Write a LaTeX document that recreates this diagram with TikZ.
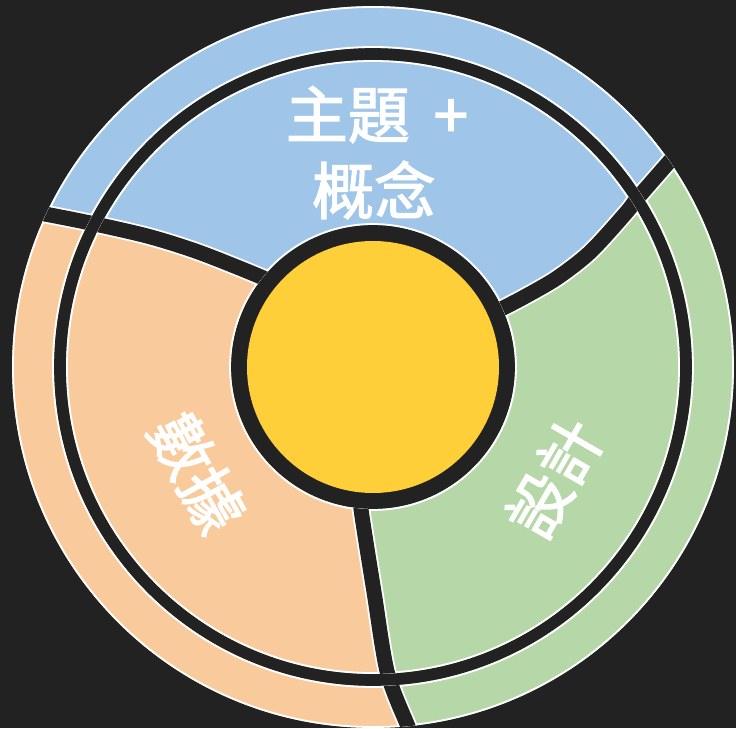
\documentclass[tikz,border=0pt]{standalone}
\usepackage{fontspec}
\newfontfamily\cjk{Noto Sans CJK TC}[FakeBold=2]
\definecolor{bgdark}{HTML}{222222}
\definecolor{cblue}{HTML}{9FC5E8}
\definecolor{corange}{HTML}{F9CB9C}
\definecolor{cgreen}{HTML}{B6D7A8}
\definecolor{cyellow}{HTML}{FFCF3A}
\tikzset{
  divwhite/.style={draw=white, line width=18.6},
  divdark/.style={draw=bgdark, line width=15},
  rim/.style={draw=white, line width=1.8},
  lbl/.style={text=white, font=\cjk\fontsize{62}{74}\selectfont, inner sep=0pt, text height=54pt, text depth=8pt}
}
\begin{document}
\begin{tikzpicture}[x=1pt,y=1pt]
\useasboundingbox (-373,-361) rectangle (363,367);
\fill[bgdark] (-373,-361) rectangle (363,367);
\begin{scope}[even odd rule]
  \clip (0,0) circle[radius=360.9] (0,0) circle[radius=319.1] (0,0) circle[radius=306.9] (0,0) circle[radius=142.1];
  \fill[cblue] (0,0) -- plot[smooth] coordinates {(24.2:128) (24.4:143) (24.8:165) (25.8:204) (27.9:246) (31.4:297) (32.5:313) (34.7:360) (35.2:372)}
     arc[start angle=35.2, end angle=155.5, radius=372]
     -- plot[smooth] coordinates {(155.5:372) (155:362) (152.8:313) (149.7:258) (146.5:207) (141:142) (140.2:128)} -- cycle;
  \fill[corange] (0,0) -- plot[smooth] coordinates {(140.2:128) (141:142) (146.5:207) (149.7:258) (152.8:313) (155:362) (155.5:372)}
     arc[start angle=155.5, end angle=276, radius=372]
     -- plot[smooth] coordinates {(276:372) (275.6:362) (272.7:306) (270.3:226) (265.2:143) (264.6:128)} -- cycle;
  \fill[cgreen] (0,0) -- plot[smooth] coordinates {(264.6:128) (265.2:143) (270.3:226) (272.7:306) (275.6:362) (276:372)}
     arc[start angle=276, end angle=395.2, radius=372]
     -- plot[smooth] coordinates {(35.2:372) (34.7:360) (32.5:313) (31.4:297) (27.9:246) (25.8:204) (24.8:165) (24.4:143) (24.2:128)} -- cycle;
\end{scope}
\draw[rim] (0,0) circle[radius=143] (0,0) circle[radius=306] (0,0) circle[radius=320] (0,0) circle[radius=360];
\begin{scope}[even odd rule]
  \clip (0,0) circle[radius=360.9] (0,0) circle[radius=319.1] (0,0) circle[radius=306.9] (0,0) circle[radius=142.1];
  \draw[divwhite] plot[smooth] coordinates {(140.2:128) (141:142) (146.5:207) (149.7:258) (152.8:313) (155:362) (155.5:372)};
  \draw[divwhite] plot[smooth] coordinates {(24.2:128) (24.4:143) (24.8:165) (25.8:204) (27.9:246) (31.4:297) (32.5:313) (34.7:360) (35.2:372)};
  \draw[divwhite] plot[smooth] coordinates {(264.6:128) (265.2:143) (270.3:226) (272.7:306) (275.6:362) (276:372)};
  \draw[divdark] plot[smooth] coordinates {(140.2:128) (141:142) (146.5:207) (149.7:258) (152.8:313) (155:362) (155.5:372)};
  \draw[divdark] plot[smooth] coordinates {(24.2:128) (24.4:143) (24.8:165) (25.8:204) (27.9:246) (31.4:297) (32.5:313) (34.7:360) (35.2:372)};
  \draw[divdark] plot[smooth] coordinates {(264.6:128) (265.2:143) (270.3:226) (272.7:306) (275.6:362) (276:372)};
\end{scope}
\node[circle, fill=cyellow, inner sep=0pt, minimum size=252pt] (hub) at (0,0) {};
\node[lbl] (topic) at (4,252) {主題\hspace{10pt} +};
\node[lbl] (concept) at (1,176) {概念};
\node[lbl, rotate=-61] (data) at (-176,-106) {數據};
\node[lbl, rotate=60] (design) at (182,-111) {設計};
\end{tikzpicture}
\end{document}
